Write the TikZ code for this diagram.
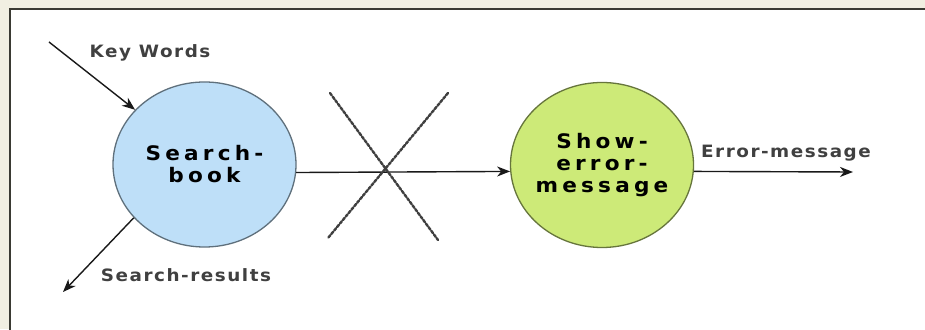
\documentclass[tikz,border=0pt]{standalone}
\usepackage{fontspec}
\usepackage{xcolor}
\usepackage{tikz}
\usetikzlibrary{shapes.geometric,arrows.meta,positioning,calc}

\newfontfamily\lblfont{DejaVu Sans}[FakeStretch=1.08,LetterSpace=9]
\newfontfamily\procfont{DejaVu Sans}[FakeStretch=1.08,LetterSpace=21]

\definecolor{pagebg}{HTML}{F1EFE2}
\definecolor{framegray}{HTML}{3A3A33}
\definecolor{bookblue}{HTML}{BEDFF8}
\definecolor{msggreen}{HTML}{CDEA78}

\tikzset{
    process/.style={ellipse, draw=#1!50!black, line width=1.3pt, inner sep=-12pt,
        minimum width=183pt, minimum height=165pt, align=center,
        font=\procfont\bfseries\fontsize{20}{22}\selectfont},
    flowlbl/.style={font=\lblfont\bfseries\fontsize{17}{18}\selectfont, text=black!75},
    flow/.style={->, line width=1.4pt, black!90}
}

\begin{document}
\begin{tikzpicture}[x=1pt, y=1pt, >={Stealth[length=13pt,width=10pt,inset=4pt]}]
    % 背景与边框
    \fill[pagebg] (0,0) rectangle (925,329);
    \useasboundingbox (0,0) rectangle (925,329);
    \clip (0,0) rectangle (925,329);
    \draw[framegray, line width=1.8pt, fill=white] (10,320) rectangle (945,-20);

    % 两个处理过程
    \node[process=bookblue, fill=bookblue] (book) at (204.5,164.5) {Search-\\book};
    \node[process=msggreen, fill=msggreen] (showerr) at (602,164) {Show-\\error-\\message};

    % 数据流
    \coordinate (kwin) at (49,287);
    \coordinate (resout) at (63,37);
    \coordinate (errout) at (853,157);
    \draw[flow] (kwin) -- (book);
    \draw[flow] (book.217) -- (resout);
    \draw[flow] (book.-5) -- (showerr.184.5);
    \draw[flow] (showerr.-4.5) -- (errout);

    \node[flowlbl] (kwlbl) at (150,276) {Key Words};
    \node[flowlbl] (reslbl) at (186,54) {Search-results};
    \node[flowlbl] (errlbl) at (786,176) {Error-message};

    % 叉号
    \draw[black!75, line width=2.4pt, dash pattern=on 3pt off 1.5pt, line cap=round]
        (330,236) -- (438,89) (448,236) -- (328,91);
\end{tikzpicture}
\end{document}
